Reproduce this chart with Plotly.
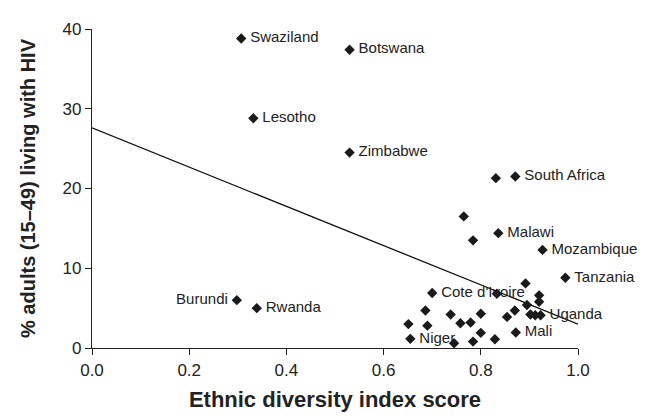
import plotly.graph_objects as go

# Labelled countries
labeled_names = ["Swaziland", "Botswana", "Lesotho", "Zimbabwe", "South Africa", "Malawi",
                 "Mozambique", "Tanzania", "Cote d'Ivoire", "Uganda", "Mali", "Niger", "Rwanda"]
labeled_x = [0.307, 0.530, 0.332, 0.530, 0.871, 0.836, 0.927, 0.974, 0.700, 0.923, 0.872, 0.655, 0.339]
labeled_y = [38.8, 37.4, 28.8, 24.5, 21.5, 14.4, 12.3, 8.8, 6.9, 4.1, 1.95, 1.15, 5.0]

left_names = ["Burundi"]
left_x = [0.298]
left_y = [6.0]

# Unlabelled countries
other_x = [0.831, 0.765, 0.784, 0.892, 0.833, 0.920, 0.920, 0.895, 0.686, 0.870, 0.738, 0.800,
           0.854, 0.902, 0.912, 0.651, 0.690, 0.758, 0.779, 0.800, 0.745, 0.784, 0.829]
other_y = [21.3, 16.5, 13.5, 8.1, 6.8, 6.6, 5.8, 5.4, 4.7, 4.7, 4.2, 4.3,
           3.9, 4.2, 4.1, 3.0, 2.8, 3.1, 3.2, 1.9, 0.6, 0.8, 1.1]

# Fitted trend line
fit_x = [0.0, 1.0]
fit_y = [27.6, 3.0]

x_ticks = [0.0, 0.2, 0.4, 0.6, 0.8, 1.0]
x_tick_text = ["0.0", "0.2", "0.4", "0.6", "0.8", "1.0"]
y_ticks = [0, 10, 20, 30, 40]

FONT = "Liberation Sans, Arial, sans-serif"
MC = "#1a1a1a"
TC = "#222222"

fig = go.Figure()
fig.add_trace(go.Scatter(x=fit_x, y=fit_y, mode="lines",
                         line=dict(color="#111111", width=1.3), hoverinfo="skip"))
fig.add_trace(go.Scatter(x=other_x, y=other_y, mode="markers",
                         marker=dict(symbol="diamond", size=8, color=MC), cliponaxis=False))
fig.add_trace(go.Scatter(x=labeled_x, y=labeled_y, mode="markers+text",
                         text=["\u2009" + n for n in labeled_names],
                         textposition="middle right",
                         textfont=dict(family=FONT, size=15, color=TC),
                         marker=dict(symbol="diamond", size=8, color=MC), cliponaxis=False))
fig.add_trace(go.Scatter(x=left_x, y=left_y, mode="markers+text",
                         text=[n + "\u2009" for n in left_names],
                         textposition="middle left",
                         textfont=dict(family=FONT, size=15, color=TC),
                         marker=dict(symbol="diamond", size=8, color=MC), cliponaxis=False))

fig.update_layout(
    width=650, height=417,
    margin=dict(l=84, r=80, t=19, b=77),
    plot_bgcolor="white", paper_bgcolor="white",
    showlegend=False,
    font=dict(family=FONT, color=TC),
)
fig.update_xaxes(range=[0, 1], tickvals=x_ticks, ticktext=x_tick_text,
                 showgrid=False, zeroline=False, showline=True, linecolor=TC, linewidth=1.3,
                 ticks="outside", ticklen=6, tickcolor=TC, tickwidth=1.3,
                 tickfont=dict(family=FONT, size=17, color=TC),
                 title=dict(text="<b>Ethnic diversity index score</b>", standoff=13,
                            font=dict(family=FONT, size=22, color=TC)))
fig.update_yaxes(range=[0, 40], tickvals=y_ticks,
                 showgrid=False, zeroline=False, showline=True, linecolor=TC, linewidth=1.3,
                 ticks="outside", ticklen=6, tickcolor=TC, tickwidth=1.3,
                 tickfont=dict(family=FONT, size=17, color=TC),
                 title=dict(text="<b>% adults (15\u201349) living with HIV</b>", standoff=21,
                            font=dict(family=FONT, size=20, color=TC)))

fig.write_html("out.html")
